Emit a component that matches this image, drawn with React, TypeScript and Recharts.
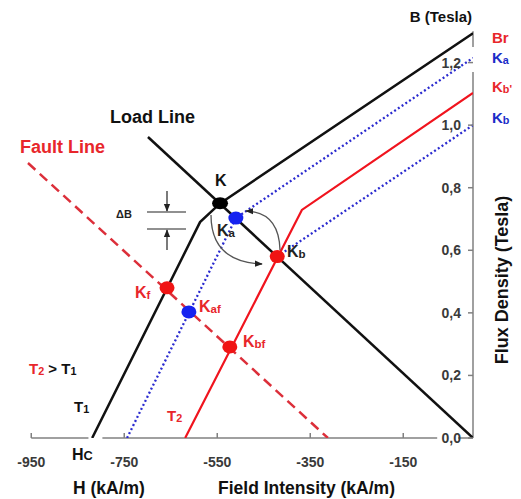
import React from "react";
import { ComposedChart, Line, Scatter, XAxis, YAxis, ReferenceLine } from "recharts";

// H in kA/m, B in Tesla
const xTicks = [-950, -750, -550, -350, -150];
const yTicks = [0, 0.2, 0.4, 0.6, 0.8, 1.0, 1.2];

const t1Curve = [
  { H: -819, B: 0 },
  { H: -587, B: 0.69 },
  { H: -544, B: 0.75 },
  { H: 0, B: 1.294 },
];
const kaCurve = [
  { H: -744, B: 0 },
  { H: -510, B: 0.703 },
  { H: 0, B: 1.215 },
];
const t2Curve = [
  { H: -619, B: 0 },
  { H: -368, B: 0.729 },
  { H: 0, B: 1.103 },
];
const kbCurve = [
  { H: -421, B: 0.58 },
  { H: 0, B: 1.0 },
];
const loadLine = [
  { H: -699, B: 0.962 },
  { H: 0, B: 0 },
];
const faultLine = [
  { H: -957, B: 0.879 },
  { H: -312, B: 0 },
];

const blackPoints = [{ H: -544, B: 0.75 }]; // K
const bluePoints = [
  { H: -510, B: 0.703 }, // Ka
  { H: -611, B: 0.403 }, // Kaf
];
const redPoints = [
  { H: -421, B: 0.58 }, // Kb
  { H: -658, B: 0.48 }, // Kf
  { H: -523, B: 0.291 }, // Kbf
];

const FONT = "'Liberation Sans', Arial, sans-serif";
const RED = "#e8262b";
const BLUE = "#1a2cc8";
const AXIS = "#808080";

const XTick = (props: any) => {
  const { x, y, payload } = props;
  return (
    <g>
      <line x1={x} y1={y} x2={x} y2={y - 5} stroke={AXIS} strokeWidth={1.5} />
      <text x={x} y={y + 29} textAnchor="middle" fontSize={14} fontWeight="bold" fill="#3a3a3a" fontFamily={FONT}>
        {payload.value}
      </text>
    </g>
  );
};

const YTick = (props: any) => {
  const { x, y, payload } = props;
  return (
    <g>
      <line x1={x - 5} y1={y} x2={x} y2={y} stroke={AXIS} strokeWidth={1.5} />
      <text x={x - 12} y={y + 5} textAnchor="end" fontSize={14} fontWeight="bold" fill="#3a3a3a" fontFamily={FONT}>
        {Number(payload.value).toFixed(1).replace(".", ",")}
      </text>
    </g>
  );
};

const Sub = ({ children }: { children: React.ReactNode }) => (
  <tspan fontSize="0.72em" dy={1}>
    {children}
  </tspan>
);

function Annotations() {
  return (
    <svg
      width={521}
      height={499}
      style={{ position: "absolute", left: 0, top: 0, pointerEvents: "none" }}
      fontFamily={FONT}
      fontWeight="bold"
    >
      <defs>
        <marker id="ah" viewBox="0 0 10 10" refX="9" refY="5" markerWidth="8" markerHeight="8"
          markerUnits="userSpaceOnUse" orient="auto">
          <path d="M0,1 L10,5 L0,9 z" fill="#222" />
        </marker>
      </defs>

      {/* curved arrows between K, Ka and Kb */}
      <path d="M 280 250 Q 279 212 246 211" fill="none" stroke="#555" strokeWidth={1.3} markerEnd="url(#ah)" />
      <path d="M 211 215 Q 211 262 262 264" fill="none" stroke="#555" strokeWidth={1.3} markerEnd="url(#ah)" />

      {/* delta B marker */}
      <line x1={147} y1={212} x2={186} y2={212} stroke="#222" strokeWidth={1.2} />
      <line x1={147} y1={229} x2={186} y2={229} stroke="#222" strokeWidth={1.2} />
      <line x1={167} y1={191} x2={167} y2={211} stroke="#222" strokeWidth={1.2} markerEnd="url(#ah)" />
      <line x1={167} y1={250} x2={167} y2={230} stroke="#222" strokeWidth={1.2} markerEnd="url(#ah)" />
      <text x={116} y={218} fontSize={11} fill="#222">ΔB</text>

      <text x={472} y={22} fontSize={15} textAnchor="end" fill="#111">B (Tesla)</text>
      <text x={492} y={43} fontSize={15} fill={RED}>Br</text>
      <text x={492} y={63} fontSize={15} fill={BLUE}>K<Sub>a</Sub></text>
      <text x={492} y={92} fontSize={15} fill={RED}>K<Sub>b'</Sub></text>
      <text x={492} y={123} fontSize={15} fill={BLUE}>K<Sub>b</Sub></text>

      <text x={110} y={123} fontSize={18} fill="#111">Load Line</text>
      <text x={20} y={153} fontSize={18} fill={RED}>Fault Line</text>

      <text x={215} y={186} fontSize={16} fill="#111">K</text>
      <text x={217} y={236} fontSize={16} fill="#222">K<Sub>a</Sub></text>
      <text x={287} y={257} fontSize={16} fill="#222">K<Sub>b</Sub></text>
      <text x={135} y={298} fontSize={16} fill={RED}>K<Sub>f</Sub></text>
      <text x={199} y={312} fontSize={16} fill={RED}>K<Sub>af</Sub></text>
      <text x={243} y={347} fontSize={16} fill={RED}>K<Sub>bf</Sub></text>

      <text x={29} y={374} fontSize={15} fill="#111">
        <tspan fill={RED}>T<Sub>2</Sub></tspan>
        <tspan dy={-1}> &gt; T</tspan>
        <Sub>1</Sub>
      </text>
      <text x={74} y={412} fontSize={15} fill="#111">T<Sub>1</Sub></text>
      <text x={167} y={421} fontSize={15} fill={RED}>T<Sub>2</Sub></text>
      <text x={72} y={460} fontSize={16} fill="#111">H<tspan fontSize="0.8em">C</tspan></text>

      <text x={73} y={494} fontSize={17.5} fill="#111">H (kA/m)</text>
      <text x={218} y={494} fontSize={17.5} fill="#111">Field Intensity (kA/m)</text>
      <text x={508} y={280} fontSize={18} fill="#111" textAnchor="middle" transform="rotate(-90 508 280)">
        Flux Density (Tesla)
      </text>
    </svg>
  );
}

const ellipse = (fill: string, rx = 7.5, ry = 6.5) => (p: any) =>
  <ellipse cx={p.cx} cy={p.cy} rx={rx} ry={ry} fill={fill} />;

export default function App() {
  return (
    <div style={{ position: "absolute", left: 0, top: 0, width: 521, height: 499, background: "#fff" }}>
      <ComposedChart width={521} height={499} margin={{ top: 0, right: 47, bottom: 60, left: 8 }}>
        <XAxis
          type="number"
          dataKey="H"
          domain={[-1000, 0]}
          ticks={xTicks}
          interval={0}
          tick={<XTick />}
          tickLine={false}
          axisLine={false}
          tickSize={0}
          tickMargin={0}
          height={1}
          allowDataOverflow
        />
        <YAxis
          type="number"
          dataKey="B"
          orientation="right"
          domain={[0, 1.4]}
          ticks={yTicks}
          interval={0}
          tick={<YTick />}
          tickLine={false}
          axisLine={false}
          tickSize={0}
          tickMargin={0}
          width={1}
          allowDataOverflow
        />
        {/* axis lines, broken where labels sit on them */}
        <ReferenceLine segment={[{ x: -950, y: 0 }, { x: -827, y: 0 }]} stroke={AXIS} strokeWidth={1.5} />
        <ReferenceLine segment={[{ x: -797, y: 0 }, { x: -77, y: 0 }]} stroke={AXIS} strokeWidth={1.5} />
        <ReferenceLine segment={[{ x: -32, y: 0 }, { x: 0, y: 0 }]} stroke={AXIS} strokeWidth={1.5} />
        <ReferenceLine segment={[{ x: 0, y: 0 }, { x: 0, y: 1.17 }]} stroke={AXIS} strokeWidth={1.5} />
        <ReferenceLine segment={[{ x: 0, y: 1.25 }, { x: 0, y: 1.3 }]} stroke={AXIS} strokeWidth={1.5} />

        <Line data={faultLine} dataKey="B" type="linear" stroke="#dc2f3a" strokeWidth={2.5}
          strokeDasharray="10 6" dot={false} activeDot={false} isAnimationActive={false} />
        <Line data={kaCurve} dataKey="B" type="linear" stroke="#2a2acf" strokeWidth={2.3}
          strokeDasharray="2 2.5" dot={false} activeDot={false} isAnimationActive={false} />
        <Line data={kbCurve} dataKey="B" type="linear" stroke="#2a2acf" strokeWidth={2.3}
          strokeDasharray="2 2.5" dot={false} activeDot={false} isAnimationActive={false} />
        <Line data={t2Curve} dataKey="B" type="linear" stroke="#f0141e" strokeWidth={2.2}
          dot={false} activeDot={false} isAnimationActive={false} />
        <Line data={loadLine} dataKey="B" type="linear" stroke="#111" strokeWidth={2.5}
          dot={false} activeDot={false} isAnimationActive={false} />
        <Line data={t1Curve} dataKey="B" type="linear" stroke="#111" strokeWidth={2.5}
          dot={false} activeDot={false} isAnimationActive={false} />

        <Scatter data={blackPoints} dataKey="B" shape={ellipse("#000", 8, 6)} isAnimationActive={false} />
        <Scatter data={bluePoints} dataKey="B" shape={ellipse("#1522f0")} isAnimationActive={false} />
        <Scatter data={redPoints} dataKey="B" shape={ellipse("#f01414")} isAnimationActive={false} />
      </ComposedChart>
      <Annotations />
    </div>
  );
}
